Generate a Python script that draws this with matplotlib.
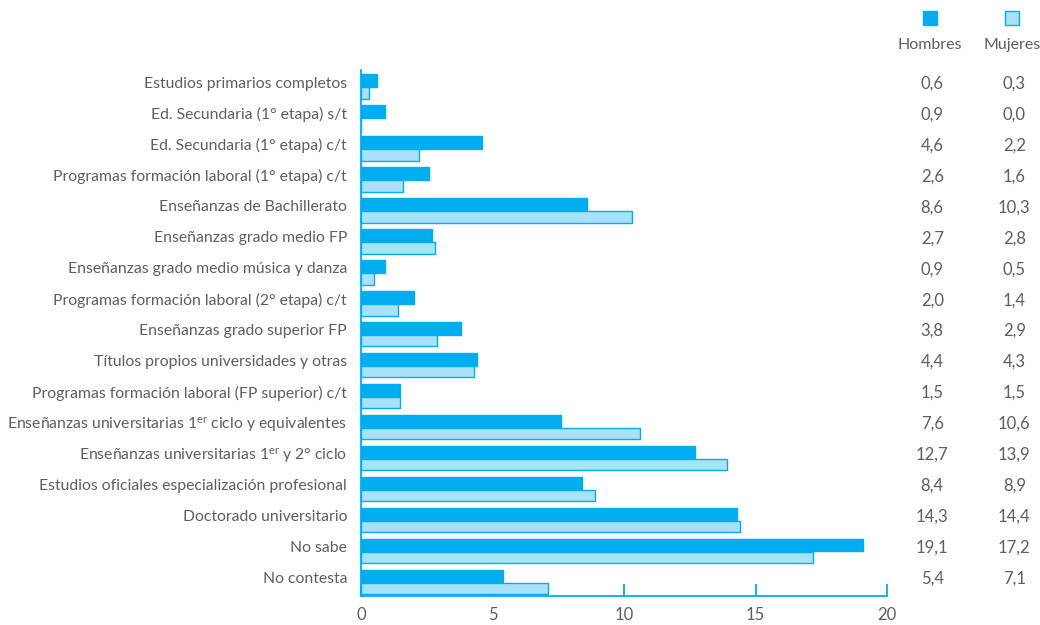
import matplotlib
matplotlib.use("Agg")
import matplotlib.pyplot as plt
from matplotlib.lines import Line2D
import numpy as np

plt.rcParams['font.family'] = ['Lato', 'DejaVu Sans']
plt.rcParams['mathtext.fontset'] = 'custom'
plt.rcParams['mathtext.rm'] = 'Lato'
plt.rcParams['mathtext.it'] = 'Lato'

categories = [
    "Estudios primarios completos",
    "Ed. Secundaria (1° etapa) s/t",
    "Ed. Secundaria (1° etapa) c/t",
    "Programas formación laboral (1° etapa) c/t",
    "Enseñanzas de Bachillerato",
    "Enseñanzas grado medio FP",
    "Enseñanzas grado medio música y danza",
    "Programas formación laboral (2° etapa) c/t",
    "Enseñanzas grado superior FP",
    "Títulos propios universidades y otras",
    "Programas formación laboral (FP superior) c/t",
    r"Enseñanzas universitarias 1$^{\mathrm{er}}$ ciclo y equivalentes",
    r"Enseñanzas universitarias 1$^{\mathrm{er}}$ y 2° ciclo",
    "Estudios oficiales especialización profesional",
    "Doctorado universitario",
    "No sabe",
    "No contesta",
]
hombres = [0.6, 0.9, 4.6, 2.6, 8.6, 2.7, 0.9, 2.0, 3.8, 4.4, 1.5, 7.6, 12.7, 8.4, 14.3, 19.1, 5.4]
mujeres = [0.3, 0.0, 2.2, 1.6, 10.3, 2.8, 0.5, 1.4, 2.9, 4.3, 1.5, 10.6, 13.9, 8.9, 14.4, 17.2, 7.1]
series_names = ["Hombres", "Mujeres"]
xticks = [0, 5, 10, 15, 20]

c_h = "#00AEEF"
c_m = "#A9E1F9"
grey = "#5e5e5e"

fig = plt.figure(figsize=(10.4, 6.25), dpi=100)
ax = fig.add_axes([361/1040, 1-596/625, (887-361)/1040, (596-70)/625])
ax.set_axisbelow(True)

y = np.arange(len(categories))
ax.barh(y - 0.04, hombres, height=0.41, color=c_h, edgecolor=c_h, linewidth=1, zorder=3)
ax.barh(y + 0.36, mujeres, height=0.37, color=c_m, edgecolor=c_h, linewidth=1, zorder=3)

ax.set_xlim(0, 20)
ax.set_ylim(16.61, -0.39)
ax.set_yticks(y)
ax.set_yticklabels(categories, fontsize=11.3, color=grey)
ax.tick_params(axis='y', length=0, pad=10)
ax.set_xticks(xticks)
ax.set_xticklabels([str(t) for t in xticks], fontsize=12, color=grey)
ax.tick_params(axis='x', direction='in', length=9, width=1.3, color=c_h, pad=8)
for s in ['top', 'right']:
    ax.spines[s].set_visible(False)
for s in ['left', 'bottom']:
    ax.spines[s].set_color(c_h)
    ax.spines[s].set_linewidth(1.3)
    ax.spines[s].set_zorder(4)

def fmt(v):
    return f"{v:.1f}".replace('.', ',')

tr = ax.get_yaxis_transform()
for i in range(len(categories)):
    ax.text(1.086, i, fmt(hombres[i]), transform=tr, ha='center', va='center_baseline',
            fontsize=12, color=grey)
    ax.text(1.242, i, fmt(mujeres[i]), transform=tr, ha='center', va='center_baseline',
            fontsize=12, color=grey)

# legend
for xc, name, fc in [(930, series_names[0], c_h), (1012, series_names[1], c_m)]:
    fig.add_artist(Line2D([xc/1040], [1-18/625], marker='s', markersize=10.5,
                          markerfacecolor=fc, markeredgecolor=c_h, markeredgewidth=1,
                          transform=fig.transFigure))
    fig.text(xc/1040, 1-45/625, name, ha='center', va='center', fontsize=11.5, color=grey)

fig.savefig("out.png", dpi=100)
